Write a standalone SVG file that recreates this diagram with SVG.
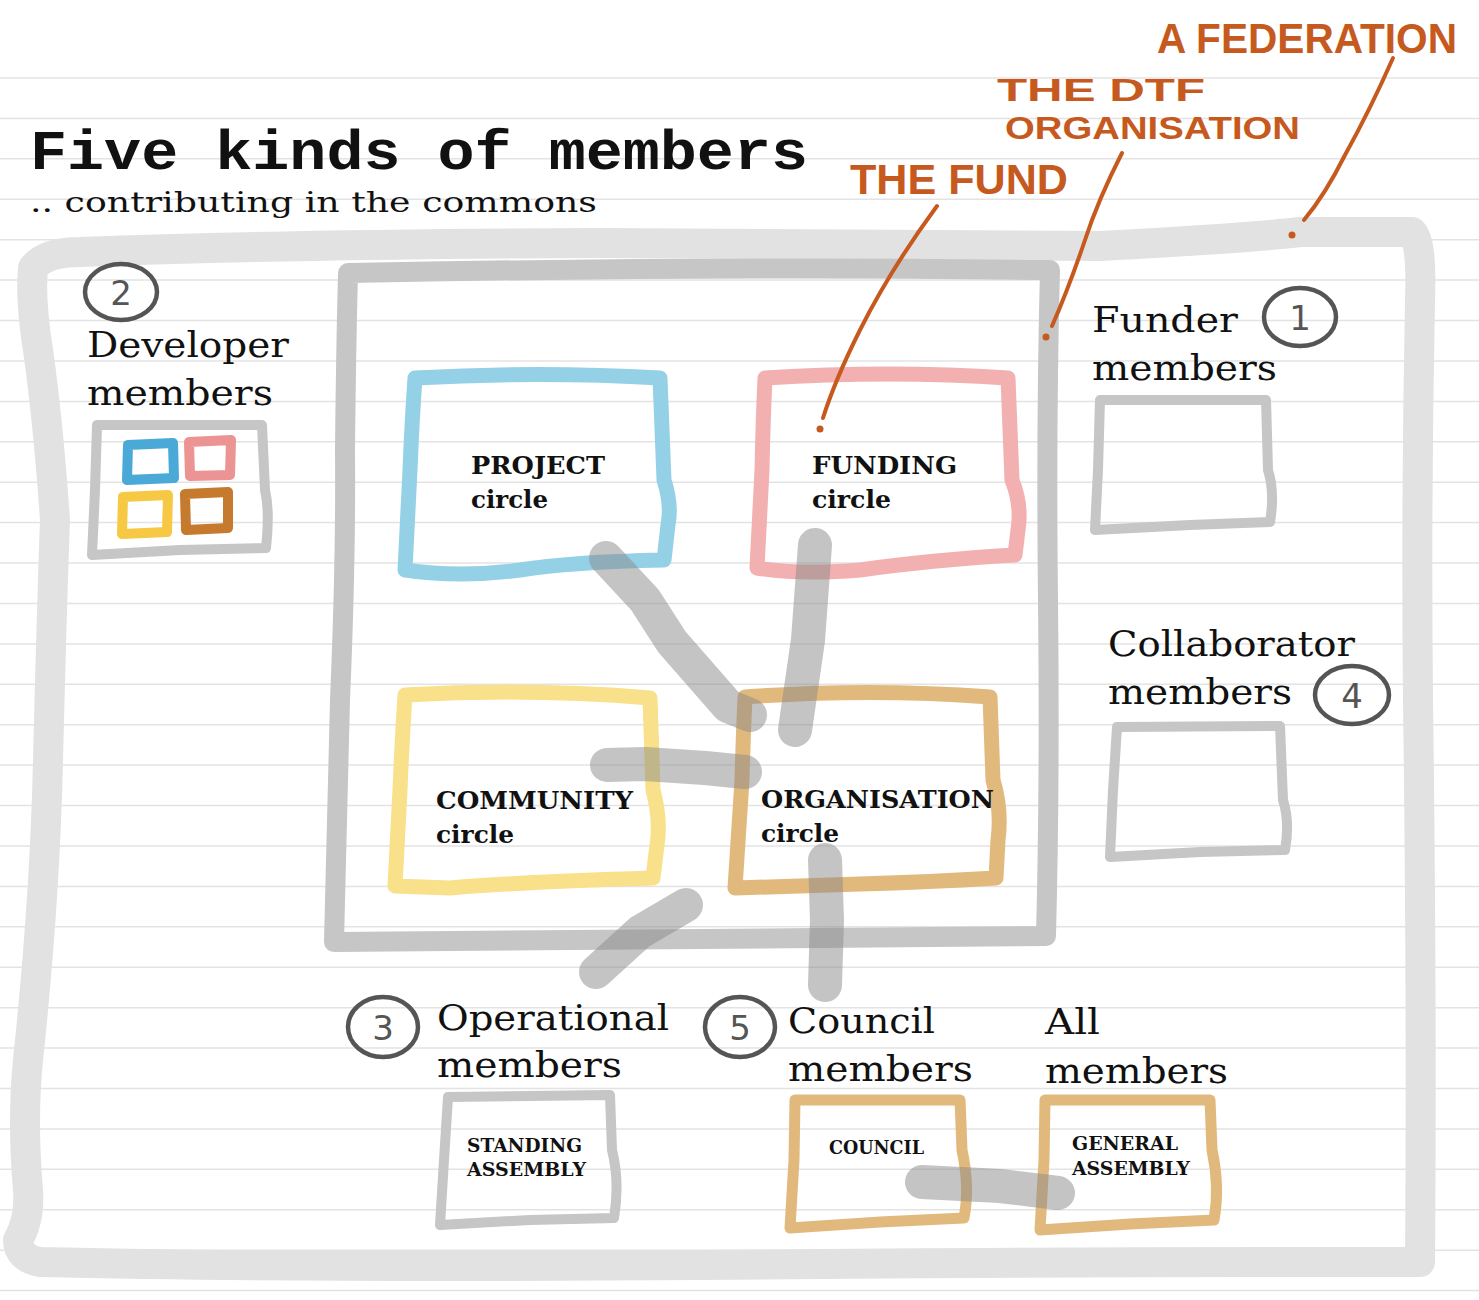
<svg xmlns="http://www.w3.org/2000/svg" width="1479" height="1300" viewBox="0 0 1479 1300">
<style>
.rule{stroke:#e3e3e3;stroke-width:1.5;fill:none}
.outer{fill:none;stroke:#e2e2e2;stroke-width:30;stroke-linejoin:round;stroke-linecap:round}
.inner{fill:none;stroke:#c6c6c6;stroke-width:20;stroke-linejoin:round;stroke-linecap:round}
.box{fill:none;stroke-width:15;stroke-linejoin:round;stroke-linecap:round}
.sbox{fill:none;stroke:#c6c6c6;stroke-width:10;stroke-linejoin:round;stroke-linecap:round}
.tbox{fill:none;stroke:#e2b97d;stroke-width:11;stroke-linejoin:round;stroke-linecap:round}
.mini{fill:none;stroke-width:10;stroke-linejoin:round}
.conn{fill:none;stroke:#8a8a8a;stroke-opacity:0.5;stroke-width:34;stroke-linecap:round;stroke-linejoin:round}
.lead{fill:none;stroke:#c65a1e;stroke-width:4;stroke-linecap:round}
.ring{fill:none;stroke:#555;stroke-width:4.5}
.num{font-family:"DejaVu Sans",sans-serif;font-size:34px;fill:#555;text-anchor:middle}
.lbl{font-family:"DejaVu Serif",serif;font-size:36px;fill:#111}
.bl{font-family:"DejaVu Serif",serif;font-weight:bold;font-size:25px;fill:#111}
.sm{font-family:"DejaVu Serif",serif;font-weight:bold;font-size:18px;fill:#111}
.hand{font-family:"Liberation Sans",sans-serif;font-weight:bold;fill:#c65a1e}
</style>
<rect width="1479" height="1300" fill="#ffffff"/>
<path class="rule" d="M0,78H1479M0,118.4H1479M0,158.8H1479M0,199.3H1479M0,239.7H1479M0,280.1H1479M0,320.5H1479M0,360.9H1479M0,401.4H1479M0,441.8H1479M0,482.2H1479M0,522.6H1479M0,563H1479M0,603.5H1479M0,643.9H1479M0,684.3H1479M0,724.7H1479M0,765.1H1479M0,805.6H1479M0,846H1479M0,886.4H1479M0,926.8H1479M0,967.2H1479M0,1007.7H1479M0,1048.1H1479M0,1088.5H1479M0,1128.9H1479M0,1169.3H1479M0,1209.8H1479M0,1250.2H1479M0,1290.6H1479"/>

<g id="federation-frame">
<path class="outer" d="M33,268 Q45,252 80,252 Q300,244 600,243 Q900,244 1100,246 Q1250,238 1300,232 L1412,232 Q1422,240 1420,300 Q1416,500 1418,700 Q1422,1000 1420,1262 Q1000,1262 700,1265 Q300,1268 40,1262 Q18,1258 18,1240 Q30,1220 28,1190 Q22,1120 28,1060 Q45,900 48,760 Q52,600 55,520 Q48,420 38,350 Q30,300 33,268 Z"/>
</g>
<g id="dtf-frame">
<path class="inner" d="M348,273 Q700,266 1050,270 Q1046,420 1048,600 Q1050,780 1046,936 Q700,940 334,942 Q338,800 340,700 Q346,560 345,450 Q346,350 348,273 Z"/>
</g>

<g id="project-circle">
<path class="box" stroke="#94d1e6" d="M415,378 Q540,371 660,378 L664,480 Q672,505 668,525 L664,560 Q570,562 520,570 Q460,578 405,570 L410,470 Q412,420 415,378 Z"/>
<text class="bl" x="471" y="474" textLength="134" lengthAdjust="spacingAndGlyphs">PROJECT</text>
<text class="bl" x="471" y="508" textLength="77" lengthAdjust="spacingAndGlyphs">circle</text>
</g>
<g id="funding-circle">
<path class="box" stroke="#f2b0b0" d="M765,378 Q890,370 1008,378 L1012,480 Q1022,505 1018,530 L1015,555 Q930,560 860,570 Q800,575 757,568 L762,470 Q763,420 765,378 Z"/>
<text class="bl" x="812" y="474" textLength="145" lengthAdjust="spacingAndGlyphs">FUNDING</text>
<text class="bl" x="812" y="508" textLength="79" lengthAdjust="spacingAndGlyphs">circle</text>
</g>
<g id="community-circle">
<path class="box" stroke="#f9e08a" d="M405,695 Q530,688 650,698 L653,790 Q661,820 657,845 L653,878 Q520,882 450,888 L395,886 L400,790 Q402,740 405,695 Z"/>
<text class="bl" x="436" y="809" textLength="197" lengthAdjust="spacingAndGlyphs">COMMUNITY</text>
<text class="bl" x="436" y="843" textLength="78" lengthAdjust="spacingAndGlyphs">circle</text>
</g>
<g id="organisation-circle">
<path class="box" stroke="#e2b97d" d="M745,697 Q870,688 990,697 L993,780 Q1002,810 998,840 L996,878 Q930,882 860,884 L735,888 L742,780 Q743,740 745,697 Z"/>
<text class="bl" x="761" y="808" textLength="233" lengthAdjust="spacingAndGlyphs">ORGANISATION</text>
<text class="bl" x="761" y="842" textLength="78" lengthAdjust="spacingAndGlyphs">circle</text>
</g>

<g id="developer-members">
<ellipse class="ring" cx="121" cy="292" rx="36" ry="28"/>
<text class="num" x="121" y="305">2</text>
<text class="lbl" x="87" y="357" textLength="202" lengthAdjust="spacingAndGlyphs">Developer</text>
<text class="lbl" x="87" y="405" textLength="186" lengthAdjust="spacingAndGlyphs">members</text>
<path class="sbox" d="M97,425 L262,425 L265,490 Q270,512 266,548 L180,550 L92,555 L95,490 Z"/>
<path class="mini" stroke="#4aa9d6" d="M128,445 L173,443 L174,478 L127,480 Z"/>
<path class="mini" stroke="#ec9393" d="M189,442 L231,440 L230,475 L190,476 Z"/>
<path class="mini" stroke="#f7c843" d="M123,497 L168,495 L167,532 L122,534 Z"/>
<path class="mini" stroke="#c57a2d" d="M185,494 L228,492 L228,528 L186,530 Z"/>
</g>

<g id="funder-members">
<text class="lbl" x="1092" y="332" textLength="146" lengthAdjust="spacingAndGlyphs">Funder</text>
<ellipse class="ring" cx="1300" cy="317" rx="36" ry="29"/>
<text class="num" x="1300" y="330">1</text>
<text class="lbl" x="1092" y="380" textLength="185" lengthAdjust="spacingAndGlyphs">members</text>
<path class="sbox" d="M1100,400 L1266,400 L1268,470 Q1275,492 1270,522 L1190,525 L1095,530 L1098,470 Z"/>
</g>

<g id="collaborator-members">
<text class="lbl" x="1108" y="656" textLength="247" lengthAdjust="spacingAndGlyphs">Collaborator</text>
<text class="lbl" x="1108" y="704" textLength="184" lengthAdjust="spacingAndGlyphs">members</text>
<ellipse class="ring" cx="1352" cy="695" rx="37" ry="29"/>
<text class="num" x="1352" y="708">4</text>
<path class="sbox" d="M1117,727 L1280,726 L1283,800 Q1290,822 1285,850 L1200,852 L1110,857 L1113,790 Z"/>
</g>

<g id="operational-members">
<ellipse class="ring" cx="383" cy="1027" rx="35" ry="30"/>
<text class="num" x="383" y="1040">3</text>
<text class="lbl" x="437" y="1030" textLength="232" lengthAdjust="spacingAndGlyphs">Operational</text>
<text class="lbl" x="437" y="1077" textLength="185" lengthAdjust="spacingAndGlyphs">members</text>
<path class="sbox" d="M448,1097 L610,1095 L612,1150 Q620,1182 614,1218 L530,1220 L440,1225 L444,1160 Z"/>
<text class="sm" x="467" y="1152" textLength="115" lengthAdjust="spacingAndGlyphs">STANDING</text>
<text class="sm" x="467" y="1176" textLength="119" lengthAdjust="spacingAndGlyphs">ASSEMBLY</text>
</g>

<g id="council-members">
<ellipse class="ring" cx="740" cy="1027" rx="35" ry="30"/>
<text class="num" x="740" y="1040">5</text>
<text class="lbl" x="788" y="1033" textLength="147" lengthAdjust="spacingAndGlyphs">Council</text>
<text class="lbl" x="788" y="1081" textLength="185" lengthAdjust="spacingAndGlyphs">members</text>
<path class="tbox" d="M795,1100 L960,1100 L962,1150 Q970,1187 964,1218 L880,1222 L790,1228 L794,1160 Z"/>
<text class="sm" x="829" y="1154" textLength="95" lengthAdjust="spacingAndGlyphs">COUNCIL</text>
</g>

<g id="all-members">
<text class="lbl" x="1045" y="1034" textLength="55" lengthAdjust="spacingAndGlyphs">All</text>
<text class="lbl" x="1045" y="1083" textLength="183" lengthAdjust="spacingAndGlyphs">members</text>
<path class="tbox" d="M1045,1100 L1210,1100 L1212,1150 Q1220,1187 1214,1220 L1130,1224 L1040,1230 L1044,1160 Z"/>
<text class="sm" x="1072" y="1150" textLength="106" lengthAdjust="spacingAndGlyphs">GENERAL</text>
<text class="sm" x="1072" y="1175" textLength="118" lengthAdjust="spacingAndGlyphs">ASSEMBLY</text>
</g>

<g id="connectors">
<path class="conn" d="M606,558 L645,600 L672,642 L728,706 L750,715"/>
<path class="conn" d="M815,545 L808,640 L795,730"/>
<path class="conn" d="M607,765 L645,764 L705,768 L745,772"/>
<path class="conn" d="M825,860 L827,920 L825,985"/>
<path class="conn" d="M686,905 L640,932 L596,972"/>
<path class="conn" d="M922,1182 L1000,1186 L1058,1193"/>
</g>

<g id="title">
<text x="30" y="169" font-family="Liberation Mono, monospace" font-weight="bold" font-size="56" fill="#111" textLength="778" lengthAdjust="spacingAndGlyphs">Five kinds of members</text>
<text x="30" y="212" font-family="DejaVu Serif, serif" font-size="27" fill="#111" textLength="567" lengthAdjust="spacingAndGlyphs">.. contributing in the commons</text>
</g>

<g id="annotations">
<text class="hand" x="1157" y="53" font-size="42" textLength="300" lengthAdjust="spacingAndGlyphs">A FEDERATION</text>
<text class="hand" x="997" y="101" font-size="32" textLength="208" lengthAdjust="spacingAndGlyphs">THE DTF</text>
<text class="hand" x="1005" y="139" font-size="32" textLength="295" lengthAdjust="spacingAndGlyphs">ORGANISATION</text>
<text class="hand" x="850" y="194" font-size="42" textLength="218" lengthAdjust="spacingAndGlyphs">THE FUND</text>
<path class="lead" d="M937,206 Q890,270 860,330 Q835,380 823,418"/>
<circle cx="820" cy="429" r="3.5" fill="#c65a1e"/>
<path class="lead" d="M1122,153 Q1098,200 1085,240 Q1068,290 1052,326"/>
<circle cx="1046" cy="337" r="3.5" fill="#c65a1e"/>
<path class="lead" d="M1393,58 Q1370,110 1345,155 Q1325,195 1304,220"/>
<circle cx="1292" cy="235" r="3.5" fill="#c65a1e"/>
</g>
</svg>
